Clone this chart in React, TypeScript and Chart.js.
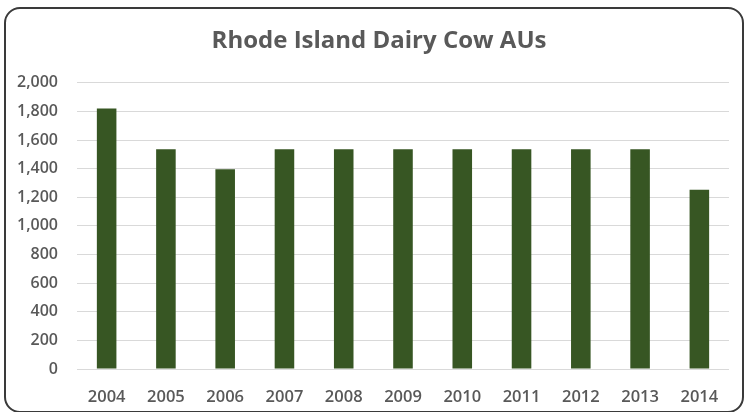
import React, { useEffect, useRef } from "react";
import { Chart, registerables } from "chart.js";

Chart.register(...registerables);

const years = ["2004", "2005", "2006", "2007", "2008", "2009", "2010", "2011", "2012", "2013", "2014"];
const dairyCowAUs = [1820, 1536, 1396, 1536, 1536, 1536, 1536, 1536, 1536, 1536, 1252];
const chartTitle = "Rhode Island Dairy Cow AUs";

const W = 745;
const H = 412;
const TEXT = "#595959";
const GRID = "#d9d9d9";
const BAR = "#375623";

// Centre the title over the chart frame rather than the whole canvas.
const titleSpan = {
  id: "titleSpan",
  afterLayout(chart: any) {
    const t = chart.titleBlock;
    if (t) {
      t.left = 29;
      t.right = 729;
      t.width = 700;
    }
  },
};

export default function App() {
  const canvasRef = useRef<HTMLCanvasElement | null>(null);

  useEffect(() => {
    document.body.style.margin = "0";
    document.body.style.background = "#ffffff";
    const canvas = canvasRef.current;
    if (!canvas) return;
    const chart = new Chart(canvas, {
      type: "bar",
      data: {
        labels: years,
        datasets: [
          {
            label: "Dairy Cow AUs",
            data: dairyCowAUs,
            backgroundColor: BAR,
            borderWidth: 0,
            barPercentage: 0.33,
            categoryPercentage: 1,
          },
        ],
      },
      options: {
        responsive: false,
        animation: false,
        devicePixelRatio: 1,
        layout: { padding: { left: 0, right: 16, top: 0, bottom: 0 } },
        plugins: {
          legend: { display: false },
          tooltip: { enabled: false },
          title: {
            display: true,
            text: chartTitle,
            color: TEXT,
            font: { family: "'Open Sans'", size: 24, weight: "bold" },
            padding: { top: 27, bottom: 27 },
          },
        },
        scales: {
          x: {
            grid: { display: false, drawTicks: false },
            border: { display: false },
            ticks: {
              color: TEXT,
              padding: 18,
              font: { family: "'Open Sans'", size: 16.5, weight: 600 },
              maxRotation: 0,
            },
            afterFit: (scale: any) => {
              scale.height = 43;
            },
          },
          y: {
            min: 0,
            max: 2000,
            grid: { color: GRID, lineWidth: 1, drawTicks: false },
            border: { display: false },
            ticks: {
              stepSize: 200,
              color: TEXT,
              padding: 19,
              font: { family: "'Open Sans'", size: 16, weight: 600 },
              callback: (v: any) => Number(v).toLocaleString("en-US"),
            },
            afterFit: (scale: any) => {
              scale.width = 77;
            },
          },
        },
      },
      plugins: [titleSpan],
    });
    return () => chart.destroy();
  }, []);

  return (
    <div style={{ position: "fixed", left: 0, top: 0, width: W, height: H, background: "#fff" }}>
      <canvas ref={canvasRef} width={W} height={H} style={{ position: "absolute", left: 0, top: 0, width: W, height: H }} />
      <div
        style={{
          position: "absolute",
          left: 4,
          top: 7,
          width: 740,
          height: 406,
          boxSizing: "border-box",
          border: "2px solid #3a3a3a",
          borderRadius: 16,
          pointerEvents: "none",
        }}
      />
    </div>
  );
}
